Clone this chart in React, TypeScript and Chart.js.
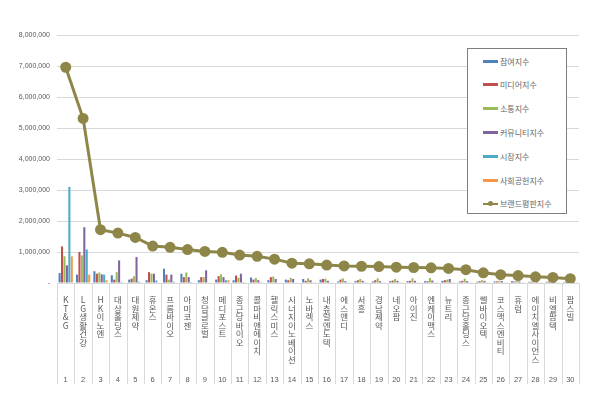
import React, { useEffect, useRef } from "react";
import { Chart, registerables } from "chart.js";

Chart.register(...registerables);

const categories = [
  "KT&G", "LG생활건강", "HK이노엔", "대상홀딩스", "대원제약", "휴온스", "프롬바이오", "아미코젠",
  "청담글로벌", "메디포스트", "종근당바이오", "콜마비앤에이치", "헬릭스미스", "시너지이노베이션",
  "노바렉스", "내츄럴엔도텍", "에스앤디", "서흥", "경남제약", "네오팜", "아이진", "엔케이맥스",
  "뉴트리", "종근당홀딩스", "쎌바이오텍", "코스맥스엔비티", "휴럼", "에이치엘사이언스", "비엘팜텍", "팜스빌",
];
const rankLabels = categories.map((_, i) => String(i + 1));

const participation = [320000, 270000, 380000, 250000, 110000, 90000, 460000, 300000, 90000, 110000, 90000, 180000, 90000, 110000, 130000, 110000, 50000, 60000, 50000, 60000, 60000, 60000, 70000, 50000, 40000, 50000, 60000, 40000, 40000, 30000];
const media = [1180000, 1000000, 300000, 110000, 140000, 350000, 270000, 190000, 190000, 220000, 240000, 110000, 190000, 90000, 70000, 130000, 110000, 90000, 90000, 80000, 70000, 60000, 90000, 70000, 60000, 50000, 50000, 40000, 50000, 40000];
const communication = [860000, 890000, 340000, 350000, 220000, 300000, 110000, 340000, 190000, 280000, 170000, 160000, 210000, 170000, 150000, 140000, 150000, 130000, 150000, 130000, 150000, 160000, 110000, 140000, 90000, 70000, 60000, 60000, 50000, 50000];
const community = [570000, 1800000, 280000, 730000, 840000, 300000, 270000, 190000, 410000, 190000, 300000, 90000, 130000, 130000, 90000, 70000, 60000, 70000, 60000, 70000, 70000, 80000, 130000, 60000, 70000, 60000, 50000, 40000, 40000, 30000];
const market = [3100000, 1080000, 270000, 30000, 40000, 80000, 40000, 30000, 20000, 90000, 30000, 30000, 20000, 20000, 20000, 10000, 10000, 10000, 10000, 10000, 10000, 10000, 10000, 10000, 10000, 10000, 10000, 10000, 10000, 10000];
const social = [860000, 270000, 90000, 20000, 20000, 20000, 20000, 20000, 20000, 90000, 20000, 20000, 20000, 20000, 10000, 20000, 10000, 20000, 10000, 10000, 10000, 10000, 10000, 10000, 10000, 10000, 10000, 10000, 10000, 10000];
const brandIndex = [6960000, 5310000, 1720000, 1610000, 1470000, 1190000, 1150000, 1080000, 1020000, 990000, 900000, 860000, 770000, 640000, 620000, 580000, 550000, 540000, 530000, 510000, 500000, 490000, 470000, 430000, 330000, 270000, 240000, 200000, 180000, 140000];

const barSeries = [
  { label: "참여지수", data: participation, color: "#4F81BD" },
  { label: "미디어지수", data: media, color: "#C0504D" },
  { label: "소통지수", data: communication, color: "#9BBB59" },
  { label: "커뮤니티지수", data: community, color: "#8064A2" },
  { label: "시장지수", data: market, color: "#4BACC6" },
  { label: "사회공헌지수", data: social, color: "#F79646" },
];
const lineLabel = "브랜드평판지수";
const lineColor = "#8E8649";

const KFONT = "'Noto Sans CJK KR', 'Noto Sans', sans-serif";
const NFONT = "'Liberation Sans', Arial, sans-serif";

// vertical label: one character per line
function splitName(name: string): string[] {
  return Array.from(name);
}

const separatorPlugin = {
  id: "separators",
  afterDraw(chart: any) {
    const xs = chart.scales.x;
    const x2 = chart.scales.x2;
    if (!xs || !x2) return;
    const ctx = chart.ctx;
    const n = categories.length;
    ctx.save();
    ctx.strokeStyle = "#D9D9D9";
    ctx.lineWidth = 1;
    for (let i = 0; i <= n; i++) {
      const px = Math.round(xs.left + (i * xs.width) / n) + 0.5;
      ctx.beginPath();
      ctx.moveTo(px, xs.top);
      ctx.lineTo(px, x2.bottom);
      ctx.stroke();
    }
    ctx.restore();
  },
};

export default function App() {
  const canvasRef = useRef<HTMLCanvasElement | null>(null);

  useEffect(() => {
    if (!canvasRef.current) return;
    const datasets: any[] = [
      {
        type: "line",
        label: lineLabel,
        data: brandIndex,
        borderColor: lineColor,
        backgroundColor: lineColor,
        borderWidth: 3,
        pointRadius: 4,
        pointBackgroundColor: lineColor,
        pointBorderColor: lineColor,
        tension: 0,
        order: 0,
        xAxisID: "x",
      },
      ...barSeries.map((s) => ({
        type: "bar",
        label: s.label,
        data: s.data,
        backgroundColor: s.color,
        borderWidth: 0,
        categoryPercentage: 0.84,
        barPercentage: 0.85,
        order: 1,
        xAxisID: "x",
      })),
    ];

    const chart = new Chart(canvasRef.current, {
      type: "bar",
      data: { labels: categories.map(splitName), datasets },
      plugins: [separatorPlugin],
      options: {
        animation: false,
        responsive: false,
        layout: { padding: { top: 35, right: 21, bottom: 15, left: 0 } },
        plugins: { legend: { display: false }, tooltip: { enabled: false } },
        scales: {
          x: {
            type: "category",
            position: "bottom",
            weight: 0,
            grid: { display: false, offset: true },
            border: { display: true, color: "#D9D9D9" },
            ticks: {
              autoSkip: false,
              maxRotation: 0,
              minRotation: 0,
              padding: 5,
              color: "#595959",
              font: { family: KFONT, size: 8.5, lineHeight: 1.0 },
            },
            afterFit: (scale: any) => { scale.height = 82; },
          },
          x2: {
            type: "category",
            position: "bottom",
            weight: 1,
            labels: rankLabels,
            offset: true,
            grid: { display: false },
            border: { display: false },
            ticks: {
              autoSkip: false,
              maxRotation: 0,
              padding: 2,
              color: "#595959",
              font: { family: NFONT, size: 7.5 },
            },
            afterFit: (scale: any) => { scale.height = 19; },
          },
          y: {
            min: 0,
            max: 8000000,
            grid: { color: "#D9D9D9", drawTicks: false },
            border: { display: false },
            ticks: {
              stepSize: 1000000,
              padding: 7,
              color: "#595959",
              font: { family: NFONT, size: 7 },
              callback: (v: any) => (Number(v) === 0 ? "-" : Number(v).toLocaleString("en-US")),
            },
            afterFit: (scale: any) => { scale.width = 57; },
          },
        },
      },
    });
    return () => chart.destroy();
  }, []);

  const allItems = [
    ...barSeries.map((s) => ({ label: s.label, color: s.color, line: false })),
    { label: lineLabel, color: lineColor, line: true },
  ];

  return (
    <div style={{ position: "absolute", left: 0, top: 0, width: 600, height: 399, background: "#fff", overflow: "hidden" }}>
      <canvas ref={canvasRef} width={600} height={399} style={{ display: "block" }} />
      <div
        style={{
          position: "absolute",
          left: 467,
          top: 48,
          width: 100,
          height: 166,
          border: "1px solid #7F7F7F",
          boxSizing: "border-box",
          background: "#fff",
        }}
      >
        {allItems.map((it, i) => (
          <div
            key={it.label}
            style={{
              position: "absolute",
              left: 15,
              top: 12 + i * 23.8 - 6,
              height: 12,
              display: "flex",
              alignItems: "center",
              fontFamily: KFONT,
              fontSize: 8,
              color: "#666",
              whiteSpace: "nowrap",
            }}
          >
            <span style={{ position: "relative", display: "inline-block", width: 15, height: 12, marginRight: 2 }}>
              <span
                style={{
                  position: "absolute",
                  left: 0,
                  top: it.line ? 5 : 4.5,
                  width: 15,
                  height: it.line ? 2 : 3,
                  background: it.color,
                }}
              />
              {it.line && (
                <span
                  style={{
                    position: "absolute",
                    left: 5,
                    top: 3.5,
                    width: 5,
                    height: 5,
                    borderRadius: "50%",
                    background: it.color,
                  }}
                />
              )}
            </span>
            {it.label}
          </div>
        ))}
      </div>
    </div>
  );
}
